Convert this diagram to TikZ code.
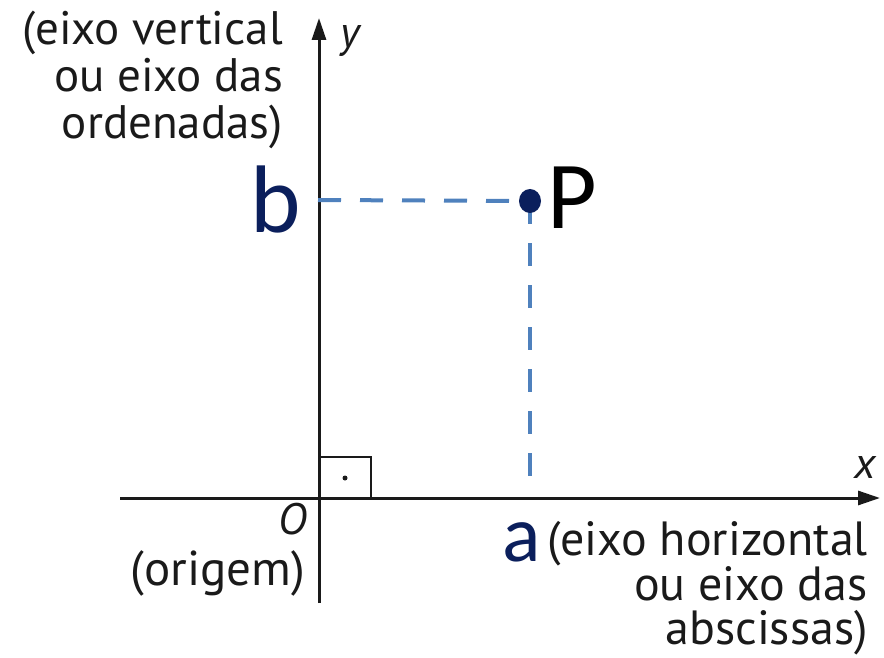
\documentclass[tikz,border=0pt]{standalone}
\usepackage{fontspec}
\setmainfont{Carlito}
\newfontfamily\lblfont{PT Sans}
\usetikzlibrary{arrows.meta}
\definecolor{navy}{HTML}{0B1F5C}
\definecolor{dashblue}{HTML}{4F81BD}
\definecolor{axisgray}{HTML}{1A1A1A}
\tikzset{
  axis/.style={line width=3pt, draw=axisgray, -{Triangle[length=22pt,width=14pt]}},
  proj/.style={line width=4pt, draw=dashblue, dash pattern=on 23pt off 19pt},
  lbl/.style={font=\lblfont\fontsize{47}{47}\selectfont, text=axisgray, align=right, inner sep=0pt},
  varlbl/.style={font=\lblfont\itshape\fontsize{44}{44}\selectfont, text=axisgray, inner sep=0pt},
  coordlbl/.style={font=\fontsize{80}{80}\selectfont, inner sep=0pt},
}
\begin{document}
\begin{tikzpicture}[x=1pt, y=-1pt]
  \useasboundingbox (0,0) rectangle (884,658);
  % axes
  \coordinate (O) at (319,498);
  \coordinate (xstart) at (120,498);
  \coordinate (xend) at (880,498);
  \coordinate (ystart) at (319,603);
  \coordinate (yend) at (319,18);
  \draw[axis] (xstart) -- (xend);
  \draw[axis] (ystart) -- (yend);
  % right angle mark
  \draw[line width=2.5pt, axisgray] (O) rectangle (371,457);
  \fill[axisgray] (345,478) circle (2.5);
  % point and projections
  \coordinate (P) at (530,201);
  \coordinate (yb) at (318,200);
  \coordinate (xa) at (530,492);
  \draw[proj] (yb) -- (P);
  \draw[proj] (P) -- (xa);
  \fill[navy] (P) ellipse (11 and 12);
  \node[coordlbl, font=\fontsize{96}{96}\selectfont, anchor=base west] (Plbl) at (547,229) {P};
  \node[coordlbl, font=\fontsize{96}{96}\selectfont, text=navy, anchor=base east] (blbl) at (301,232) {b};
  \node[coordlbl, text=navy, anchor=base west] (albl) at (502,561) {a};
  % axis names
  \node[varlbl, anchor=base west] (ylbl) at (340,48) {y};
  \node[varlbl, anchor=base west] (xlbl) at (854,478) {x};
  \node[varlbl, anchor=base east] (Olbl) at (307,534) {O};
  \node[lbl, anchor=base east, font=\lblfont\fontsize{49}{49}\selectfont] (origem) at (305,585) {(origem)};
  \node[lbl, anchor=north east, font=\lblfont\fontsize{47}{47}\selectfont] (yname) at (283,11)
    {(eixo vertical\\ou eixo das\\ordenadas)};
  \node[lbl, anchor=north east, font=\lblfont\fontsize{48}{44}\selectfont] (xname) at (868,521)
    {(eixo horizontal\\ou eixo das\\abscissas)};
\end{tikzpicture}
\end{document}
